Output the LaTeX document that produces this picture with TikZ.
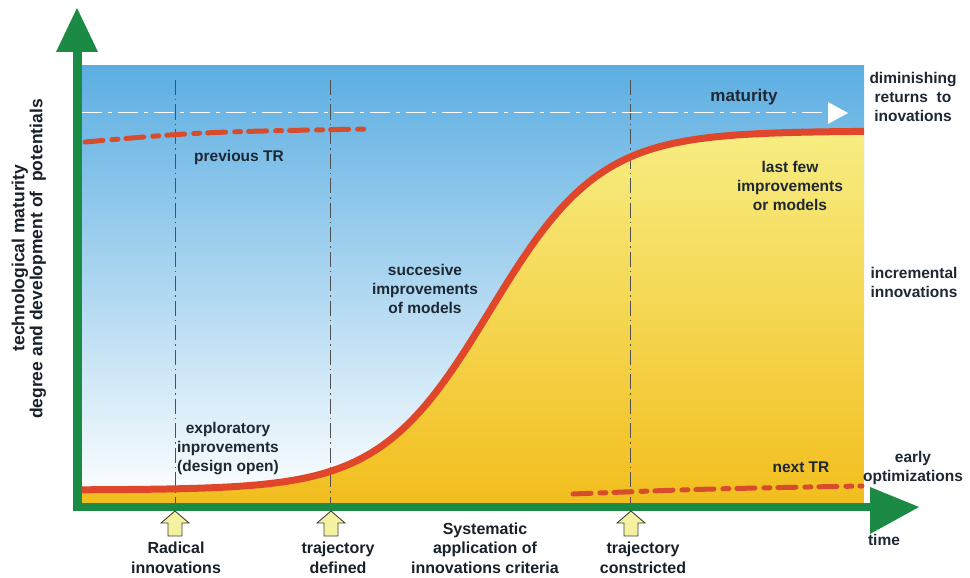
\documentclass[tikz,border=0pt]{standalone}
\usepackage{fontspec}
\setmainfont{Liberation Sans}
\begin{document}
\definecolor{axisgreen}{RGB}{26,138,68}
\definecolor{skyblue}{RGB}{92,174,226}
\definecolor{curvered}{RGB}{224,70,42}
\definecolor{dashred}{RGB}{216,76,46}
\definecolor{sunlight}{RGB}{247,237,130}
\definecolor{sundeep}{RGB}{242,190,30}
\definecolor{inktext}{RGB}{30,40,52}
\definecolor{guidegray}{RGB}{80,80,80}
\definecolor{paleyellow}{RGB}{244,242,160}
\tikzset{
  lbl/.style={font=\bfseries\fontsize{15.5}{19}\selectfont, text=inktext, align=center, inner sep=0pt},
  axlbl/.style={font=\bfseries\fontsize{16}{20.5}\selectfont, text=inktext!80!black, align=center, inner sep=0pt},
  ylbl/.style={font=\bfseries\fontsize{17.5}{18.5}\selectfont, text=inktext!80!black, inner sep=0pt, rotate=90},
  guide/.style={guidegray, line width=0.8pt, dash pattern=on 15pt off 4pt on 1.5pt off 4pt},
  trline/.style={dashred, line width=5pt, line cap=round, dash pattern=on 18pt off 9pt on 6pt off 8pt},
  liftarrow/.pic={\draw[fill=paleyellow, draw=black!75, line width=0.9pt, line join=miter]
      (0,0) -- (14,12) -- (7,12) -- (7,25) -- (-7,25) -- (-7,12) -- (-14,12) -- cycle;}
}
% the S-shaped maturity curve: a logistic rise from y=490 to y=131
\def\scurve{plot[domain=82:864, samples=160, smooth] (\x, {490-359/(1+exp(-(\x-490)/55))})}
\begin{tikzpicture}[x=1pt, y=-1pt]
\useasboundingbox (0,0) rectangle (970,578);
% background sky
\shade[top color=skyblue, bottom color=white] (82,66) rectangle (864,503);
% area under the S-curve
\shade[top color=sunlight, bottom color=sundeep] \scurve -- (864,503) -- (82,503) -- cycle;
% guide lines
\coordinate (g1t) at (175,80); \coordinate (g1b) at (175,503);
\coordinate (g2t) at (330,80); \coordinate (g2b) at (330,503);
\coordinate (g3t) at (630,80); \coordinate (g3b) at (630,503);
\draw[guide] (g1t) -- (g1b);
\draw[guide] (g2t) -- (g2b);
\draw[guide] (g3t) -- (g3b);
% maturity line
\coordinate (m0) at (82,113); \coordinate (m1) at (830,113);
\draw[white, line width=1pt, dash pattern=on 20pt off 6pt on 4pt off 6pt] (m0) -- (m1);
\fill[white] (828,102) -- (848,113) -- (828,124) -- cycle;
% technology trajectories
\draw[curvered, line width=7pt] \scurve;
\coordinate (p0) at (85,142); \coordinate (p1) at (368,129);
\draw[trline] (p0) .. controls (200,132) .. (p1);
\coordinate (n0) at (573,494); \coordinate (n1) at (862,486);
\draw[trline] (n0) .. controls (700,489) .. (n1);
% axes
\coordinate (o) at (73,507); \coordinate (ytop) at (77,50); \coordinate (xend) at (872,507);
\draw[axisgreen, line width=9pt] (77,511) -- (ytop);
\fill[axisgreen] (56,52) -- (77,8) -- (98,52) -- cycle;
\draw[axisgreen, line width=8pt] (o) -- (xend);
\fill[axisgreen] (870,487) -- (919,507) -- (870,534) -- cycle;
% milestone arrows
\pic at (175,511) {liftarrow};
\pic at (331,511) {liftarrow};
\pic at (631,511) {liftarrow};
% labels
\node[lbl, font=\bfseries\fontsize{17}{20}\selectfont] (mat) at (744,97) {maturity};
\node[lbl] (prev) at (239,157) {previous TR};
\node[lbl] (last) at (790,186) {last few\\improvements\\or models};
\node[lbl] (dim) at (913,97) {diminishing\\returns\ \ to\\inovations};
\node[lbl] (succ) at (425,289) {succesive\\improvements\\of models};
\node[lbl] (incr) at (914,282) {incremental\\innovations};
\node[lbl] (expl) at (228,449) {exploratory\\inprovements\\(design open)};
\node[lbl] (next) at (801,467) {next TR};
\node[lbl] (early) at (913,468) {early\\optimizations};
\node[lbl] (time) at (884,540) {time};
\node[axlbl] (rad) at (176,558) {Radical\\innovations};
\node[axlbl] (tdef) at (338,558) {trajectory\\defined};
\node[axlbl, font=\bfseries\fontsize{16}{19.5}\selectfont] (sys) at (485,548) {Systematic\\application of\\innovations criteria};
\node[axlbl] (tcon) at (643,558) {trajectory\\constricted};
\node[ylbl] (ylab1) at (20,258) {technological maturity};
\node[ylbl] (ylab2) at (38,259) {degree and development of\ \ potentials};
\end{tikzpicture}
\end{document}
